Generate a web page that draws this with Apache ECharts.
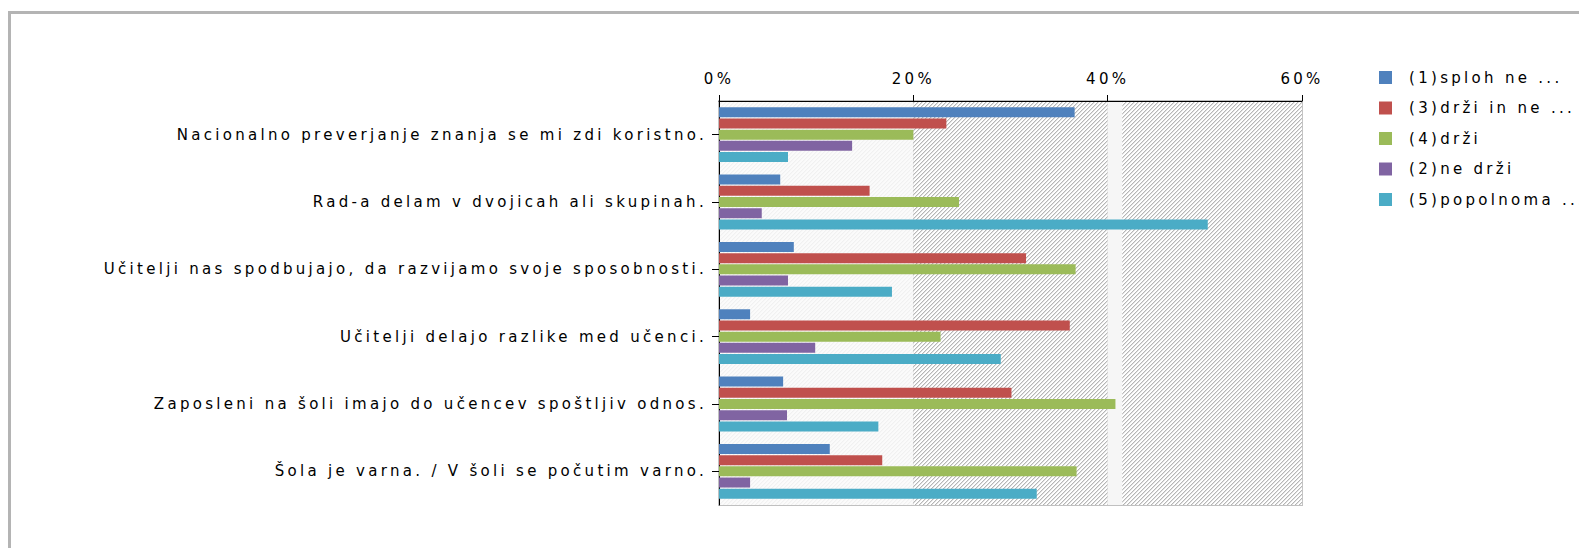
<!DOCTYPE html>
<html>
<head>
<meta charset="utf-8">
<title>Trditve o šoli</title>
<script src="https://cdn.jsdelivr.net/npm/echarts@6/dist/echarts.min.js"></script>
<style>
    html, body { margin: 0; padding: 0; background: #fff; }
    #chart { width: 1579px; height: 548px; letter-spacing: 3.3px; }
</style>
</head>
<body>
<div id="chart"></div>
<script>
// Statements (top to bottom)
const categories = [
    'Nacionalno preverjanje znanja se mi zdi koristno.',
    'Rad-a delam v dvojicah ali skupinah.',
    'Učitelji nas spodbujajo, da razvijamo svoje sposobnosti.',
    'Učitelji delajo razlike med učenci.',
    'Zaposleni na šoli imajo do učencev spoštljiv odnos.',
    'Šola je varna. / V šoli se počutim varno.'
];

// Answer shares in %
const seriesNames = ['(1)sploh ne ...', '(3)drži in ne ...', '(4)drži', '(2)ne drži', '(5)popolnoma ...'];
const splohNe   = [36.6, 6.3, 7.7, 3.2, 6.6, 11.4];
const drziInNe  = [23.4, 15.5, 31.6, 36.1, 30.1, 16.8];
const drzi      = [20.0, 24.7, 36.7, 22.8, 40.8, 36.8];
const neDrzi    = [13.7, 4.4, 7.1, 9.9, 7.0, 3.2];
const popolnoma = [7.1, 50.3, 17.8, 29.0, 16.4, 32.7];

// x axis ticks
const xMin = 0;
const xMax = 60;
const xStep = 20;

const colors = ['#4f81bd', '#c0504d', '#9bbb59', '#8064a2', '#4bacc6'];

// Diagonal hatch tile used for the background bands
function makeHatch(bg, dark, light) {
    const c = document.createElement('canvas');
    c.width = 4;
    c.height = 4;
    const ctx = c.getContext('2d');
    ctx.fillStyle = bg;
    ctx.fillRect(0, 0, 4, 4);
    for (let i = 0; i < 4; i++) {
        ctx.fillStyle = dark;
        ctx.fillRect(i, 3 - i, 1, 1);
        ctx.fillStyle = light;
        ctx.fillRect(i, (4 - i) % 4, 1, 1);
    }
    return { image: c, repeat: 'repeat', imageWidth: 4, imageHeight: 4 };
}

const hatchDark = makeHatch('#ffffff', '#b6b6b6', '#e2e2e2');
const hatchLight = makeHatch('#fbfbfb', '#f1f1f1', '#f7f7f7');

// Background bands behind the bars
const bands = [
    { from: 0, to: 20, fill: hatchLight },
    { from: 20, to: 40, fill: hatchDark },
    { from: 40, to: 41.5, fill: '#f6f6f6' },
    { from: 41.5, to: 60, fill: hatchDark }
];

const chart = echarts.init(document.getElementById('chart'), null, { renderer: 'svg' });

const valuesBySeries = [splohNe, drziInNe, drzi, neDrzi, popolnoma];

const series = seriesNames.map((name, i) => {
    const s = {
        name: name,
        type: 'bar',
        data: valuesBySeries[i],
        barWidth: 10,
        barGap: '12%',
        itemStyle: { color: colors[i] },
        emphasis: { disabled: true }
    };
    if (i === 0) {
        s.markArea = {
            silent: true,
            z: 0,
            data: bands.map(b => [
                { xAxis: b.from, itemStyle: { color: b.fill, borderWidth: 0 } },
                { xAxis: b.to }
            ])
        };
    }
    return s;
});

const option = {
    animation: false,
    color: colors,
    textStyle: { fontFamily: 'DejaVu Sans', color: '#000' },
    graphic: [{
        type: 'rect',
        silent: true,
        shape: { x: 9.5, y: 12.5, width: 1620, height: 620 },
        style: { fill: 'none', stroke: '#b4b4b4', lineWidth: 3 }
    }],
    legend: {
        orient: 'vertical',
        left: 1374,
        top: 65,
        icon: 'rect',
        itemWidth: 13,
        itemHeight: 13,
        itemGap: 15.5,
        textStyle: { fontSize: 15, color: '#000', padding: [0, 0, 0, 12] },
        data: seriesNames
    },
    grid: {
        left: 719,
        right: 277,
        top: 101,
        bottom: 43,
        show: true,
        borderColor: '#c0c0c0',
        borderWidth: 2,
        containLabel: false,
        outerBoundsMode: 'none'
    },
    xAxis: {
        type: 'value',
        position: 'top',
        min: xMin,
        max: xMax,
        interval: xStep,
        axisLine: { show: true, lineStyle: { color: '#000', width: 1 } },
        axisTick: { show: true, length: 6, lineStyle: { color: '#000' } },
        axisLabel: { formatter: '{value}%', fontSize: 15, color: '#000', margin: 15 },
        splitLine: { show: true, lineStyle: { color: '#c4c4c4', width: 1 } }
    },
    yAxis: {
        type: 'category',
        data: categories,
        inverse: true,
        axisLine: { show: true, lineStyle: { color: '#000', width: 1 } },
        axisTick: { show: true, alignWithLabel: true, length: 7, lineStyle: { color: '#000' } },
        axisLabel: { interval: 0, fontSize: 15, color: '#000', margin: 12 },
        splitLine: { show: false }
    },
    series: series
};

chart.setOption(option);
</script>
</body>
</html>
